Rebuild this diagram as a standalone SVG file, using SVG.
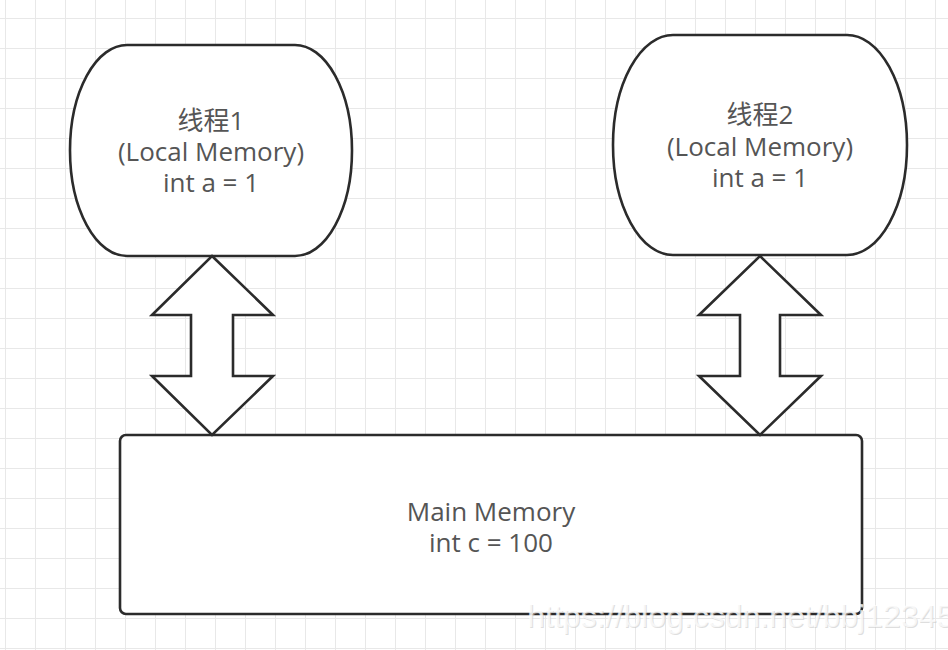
<svg xmlns="http://www.w3.org/2000/svg" width="948" height="650" viewBox="0 0 948 650">
  <defs>
    <pattern id="grid" patternUnits="userSpaceOnUse" x="5" y="18" width="30" height="30">
      <path d="M 0 0 H 30 M 0 0 V 30" fill="none" stroke="#e8e8e8" stroke-width="2"/>
    </pattern>
  </defs>
  <style>
    .shape { fill: #ffffff; stroke: #2b2b2b; stroke-width: 2.6; stroke-linejoin: miter; }
    .label { font-family: "Open Sans", "Noto Sans CJK SC", sans-serif; font-size: 26px; fill: #555555; text-anchor: middle; }
    .wm { font-family: "Liberation Sans", Arial, sans-serif; font-size: 32px; }
  </style>
  <rect x="0" y="0" width="948" height="650" fill="#ffffff"/>
  <rect x="0" y="0" width="948" height="650" fill="url(#grid)"/>

  <g id="thread1">
    <path class="shape" d="M 127 45 H 295 A 57 105.5 0 0 1 352 150.5 A 57 105.5 0 0 1 295 256 H 127 A 57 105.5 0 0 1 70 150.5 A 57 105.5 0 0 1 127 45 Z"/>
    <text class="label" x="211" y="130">线程1</text>
    <text class="label" x="211" y="161">(Local Memory)</text>
    <text class="label" x="211" y="192">int a = 1</text>
  </g>

  <g id="thread2">
    <path class="shape" d="M 673 35 H 847 A 60 110 0 0 1 907 145 A 60 110 0 0 1 847 255 H 673 A 60 110 0 0 1 613 145 A 60 110 0 0 1 673 35 Z"/>
    <text class="label" x="760" y="124">线程2</text>
    <text class="label" x="760" y="156">(Local Memory)</text>
    <text class="label" x="760" y="187">int a = 1</text>
  </g>

  <g id="main-memory">
    <rect class="shape" x="120" y="435" width="742" height="179" rx="6" ry="6"/>
    <text class="label" x="491" y="521">Main Memory</text>
    <text class="label" x="491" y="552">int c = 100</text>
  </g>

  <g id="connectors">
    <polygon class="shape" points="212,256 273,315 233,315 233,376 273,376 212,435 152,376 191,376 191,315 152,315"/>
    <polygon class="shape" points="760,256 821,315 780,315 780,376 821,376 760,435 699,376 740,376 740,315 699,315"/>
  </g>

  <g id="watermark">
    <text class="wm" x="528" y="628" fill="#c8c8c8" fill-opacity="0.6">https://blog.csdn.net/bbj12345</text>
    <text class="wm" x="527" y="627" fill="#ffffff" fill-opacity="0.75">https://blog.csdn.net/bbj12345</text>
  </g>
</svg>
